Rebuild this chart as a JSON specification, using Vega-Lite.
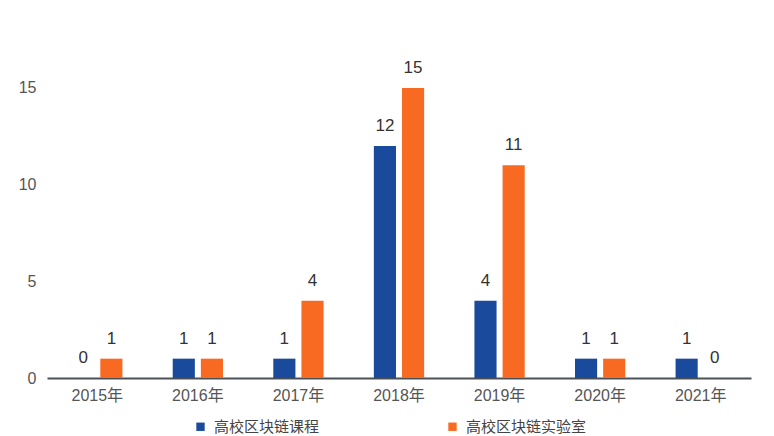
{
  "$schema": "https://vega.github.io/schema/vega-lite/v6.json",
  "width": 704,
  "height": 378,
  "autosize": "none",
  "padding": {"left": 47, "top": 0, "right": 23, "bottom": 58},
  "background": "white",
  "config": {
    "view": {"stroke": null},
    "font": "Liberation Sans, Noto Sans CJK SC",
    "axis": {"labelFont": "Liberation Sans, Noto Sans CJK SC", "labelColor": "#555555", "labelFontSize": 16}
  },
  "data": {
    "values": [
      {"year": "2015年", "series": "高校区块链课程", "count": 0},
      {"year": "2015年", "series": "高校区块链实验室", "count": 1},
      {"year": "2016年", "series": "高校区块链课程", "count": 1},
      {"year": "2016年", "series": "高校区块链实验室", "count": 1},
      {"year": "2017年", "series": "高校区块链课程", "count": 1},
      {"year": "2017年", "series": "高校区块链实验室", "count": 4},
      {"year": "2018年", "series": "高校区块链课程", "count": 12},
      {"year": "2018年", "series": "高校区块链实验室", "count": 15},
      {"year": "2019年", "series": "高校区块链课程", "count": 4},
      {"year": "2019年", "series": "高校区块链实验室", "count": 11},
      {"year": "2020年", "series": "高校区块链课程", "count": 1},
      {"year": "2020年", "series": "高校区块链实验室", "count": 1},
      {"year": "2021年", "series": "高校区块链课程", "count": 1},
      {"year": "2021年", "series": "高校区块链实验室", "count": 0}
    ]
  },
  "encoding": {
    "x": {
      "field": "year", "type": "nominal", "title": null,
      "scale": {"paddingInner": 0.5, "paddingOuter": 0.25},
      "axis": {"labelAngle": 0, "ticks": false, "domainColor": "#4a5258", "domainWidth": 2, "labelPadding": 9}
    },
    "xOffset": {
      "field": "series", "type": "nominal",
      "sort": ["高校区块链课程", "高校区块链实验室"],
      "scale": {"paddingInner": 0.214}
    },
    "y": {
      "field": "count", "type": "quantitative", "title": null,
      "scale": {"domain": [0, 19.55], "nice": false},
      "axis": {"values": [0, 5, 10, 15], "grid": false, "ticks": false, "domain": false, "labelPadding": 11}
    }
  },
  "layer": [
    {
      "mark": {"type": "bar"},
      "encoding": {
        "color": {
          "field": "series", "type": "nominal",
          "sort": ["高校区块链课程", "高校区块链实验室"],
          "scale": {"domain": ["高校区块链课程", "高校区块链实验室"], "range": ["#1a4a9c", "#f86a22"]},
          "legend": {
            "title": null, "orient": "none", "direction": "horizontal",
            "legendX": 146, "legendY": 419,
            "symbolType": "square", "symbolSize": 70, "symbolStrokeWidth": 0,
            "labelFontSize": 15, "labelColor": "#444444", "labelFont": "Noto Sans CJK SC",
            "columnPadding": 125, "labelOffset": 6
          }
        }
      }
    },
    {
      "mark": {"type": "text", "baseline": "bottom", "dy": -11, "fontSize": 17, "color": "#333333", "font": "Liberation Sans"},
      "encoding": {"text": {"field": "count", "type": "quantitative"}}
    }
  ]
}
